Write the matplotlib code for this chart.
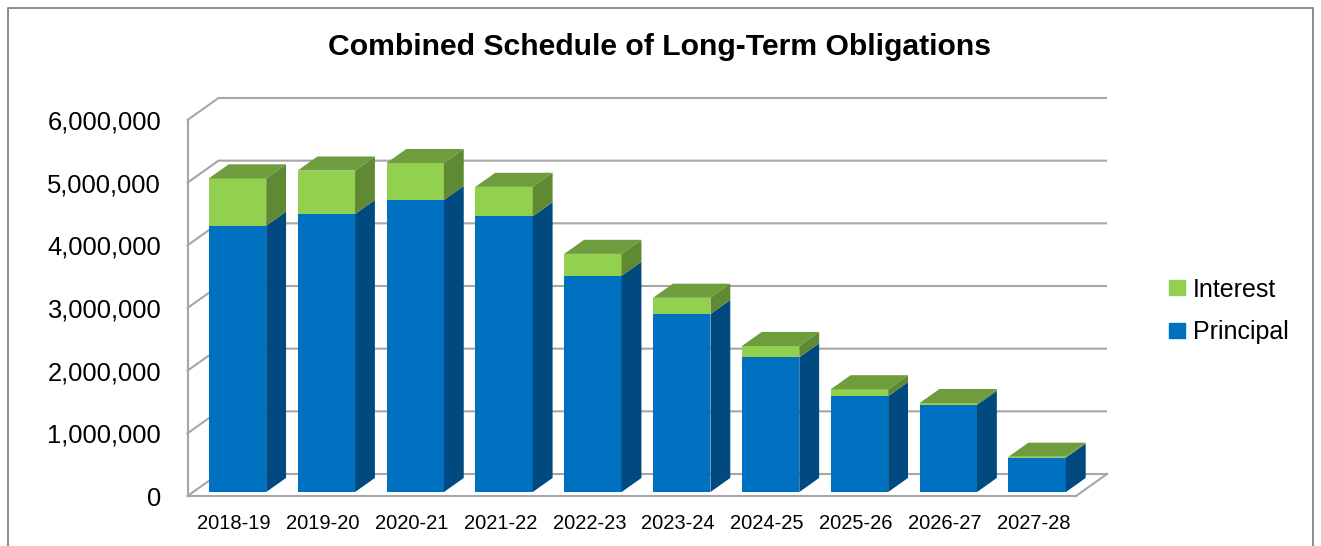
#! /usr/bin/env python3
"""Combined schedule of long-term obligations, stacked bars drawn with a fake 3D depth"""

import matplotlib
matplotlib.use('Agg')
import matplotlib.pyplot as plt
from matplotlib.lines import Line2D
from matplotlib.patches import Patch, Polygon

plt.rcParams['font.family'] = ['Liberation Sans', 'DejaVu Sans']

years = ['2018-19', '2019-20', '2020-21', '2021-22', '2022-23',
         '2023-24', '2024-25', '2025-26', '2026-27', '2027-28']
principal = [4250000, 4436000, 4660000, 4400000, 3450000,
             2840000, 2150000, 1530000, 1390000, 550000]
interest = [755000, 694000, 590000, 470000, 350000,
            260000, 180000, 110000, 30000, 13000]
yticks = [0, 1000000, 2000000, 3000000, 4000000, 5000000, 6000000]

W, H = 1321, 546
BLUE, BLUE_SIDE = '#0070c0', '#004a80'
GREEN, GREEN_SIDE, GREEN_TOP = '#92d050', '#5f8a33', '#6f9c3d'
GRID = '#a6a6a6'
FRAME = '#8a8a8a'

# size of the depth of the floor, in data units
DEPTH_X = 31 / 88.85
DEPTH_Y = 22 / 62.67e-6
# bars sit between these fractions of the depth
BAR_FRONT = 0.18
BAR_BACK = 0.82
BAR_WIDTH = 0.646

fig = plt.figure(figsize=(W / 100, H / 100), dpi=100)
ax = fig.add_axes([187.5 / W, 1 - 496 / H, (1076 - 187.5) / W, 376 / H])
ax.set_xlim(0, len(years))
ax.set_ylim(0, 6000000)

# chart border, the bottom edge is cut off in the picture
fig.add_artist(Line2D([8 / W, 8 / W, 1313 / W, 1313 / W],
                      [0, 1 - 8 / H, 1 - 8 / H, 0], color=FRAME, lw=1.4))


def offset(x, y, d):
    return x + d * DEPTH_X, y + d * DEPTH_Y


# walls
n = len(years)
for v in yticks:
    x0, y0 = offset(0, v, 1)
    x1 = n + DEPTH_X if v == 0 else n + 30 / 88.85
    ax.plot([0, x0, x1], [v, y0, y0], color=GRID, lw=1.5, clip_on=False, zorder=1,
            solid_joinstyle='miter')
ax.plot([n, n + DEPTH_X], [0, DEPTH_Y], color=GRID, lw=1.5, clip_on=False, zorder=1)

dx_f, dy_f = offset(0, 0, BAR_FRONT)
dx_b, dy_b = offset(0, 0, BAR_BACK)
lefts = [i + (1 - BAR_WIDTH) / 2 for i in range(n)]
centers = [i + 0.5 + dx_f for i in range(n)]
totals = [p + q for p, q in zip(principal, interest)]

ax.bar(centers, principal, BAR_WIDTH, bottom=dy_f, color=BLUE, zorder=3)
ax.bar(centers, interest, BAR_WIDTH, bottom=[p + dy_f for p in principal], color=GREEN, zorder=3)

for i in range(n):
    xr_f = lefts[i] + BAR_WIDTH + dx_f
    xr_b = lefts[i] + BAR_WIDTH + dx_b
    xl_f = lefts[i] + dx_f
    xl_b = lefts[i] + dx_b
    p = principal[i]
    t = totals[i]
    ax.add_patch(Polygon([(xr_f, dy_f), (xr_b, dy_b), (xr_b, p + dy_b), (xr_f, p + dy_f)],
                         color=BLUE_SIDE, lw=0, zorder=3, clip_on=False))
    ax.add_patch(Polygon([(xr_f, p + dy_f), (xr_b, p + dy_b), (xr_b, t + dy_b), (xr_f, t + dy_f)],
                         color=GREEN_SIDE, lw=0, zorder=3, clip_on=False))
    ax.add_patch(Polygon([(xl_f, t + dy_f), (xr_f, t + dy_f), (xr_b, t + dy_b), (xl_b, t + dy_b)],
                         color=GREEN_TOP, lw=0, zorder=3, clip_on=False))

for s in ['top', 'right']:
    ax.spines[s].set_visible(False)
for s in ['left', 'bottom']:
    ax.spines[s].set_color(GRID)
    ax.spines[s].set_linewidth(1.5)
ax.patch.set_visible(False)

# labels sit about 2 px right of the category centre
ax.set_xticks([i + 0.5 + 2 / 88.85 for i in range(n)], years, fontsize=14.5)
ax.set_yticks(yticks, [f'{v:,}' for v in yticks], fontsize=18.4)
ax.tick_params(axis='x', length=0, pad=13)
ax.tick_params(axis='y', length=0, pad=19)
ax.set_zorder(2)

fig.text(660 / W, 1 - 47 / H, 'Combined Schedule of Long-Term Obligations',
         ha='center', va='center', fontsize=21.7, fontweight='bold')

handles = [Patch(color=GREEN, label='Interest'), Patch(color=BLUE, label='Principal')]
fig.legend(handles=handles, loc='center left', bbox_to_anchor=(1169 / W, 1 - 311 / H),
           frameon=False, fontsize=18, handlelength=0.65, handleheight=0.55,
           handletextpad=0.3, labelspacing=0.75, borderaxespad=0, borderpad=0)

fig.savefig('out.png', dpi=100)
